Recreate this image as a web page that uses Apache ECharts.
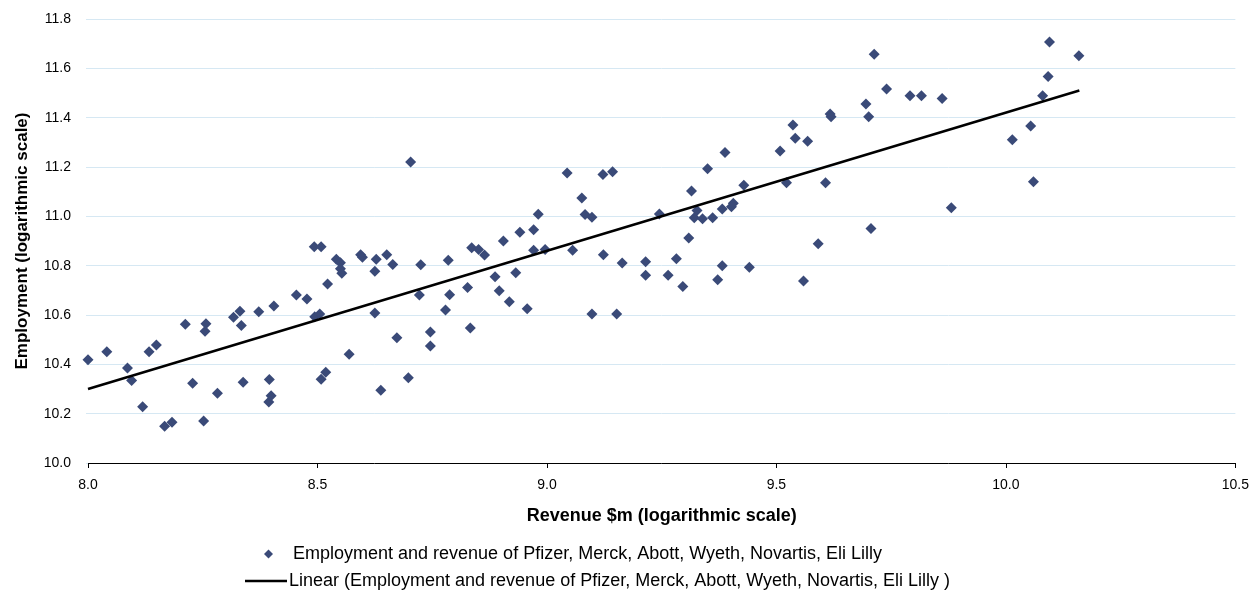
<!DOCTYPE html>
<html>
<head>
<meta charset="utf-8">
<script src="https://cdn.jsdelivr.net/npm/echarts@6/dist/echarts.min.js"></script>
<style>html,body{margin:0;padding:0;background:#fff}#c{width:1252px;height:592px}</style>
</head>
<body>
<div id="c"></div>
<script>
const revenueLog = [8.000,8.041,8.086,8.095,8.119,8.133,8.149,8.167,8.183,8.212,8.228,8.252,8.255,8.257,8.282,8.317,8.331,8.334,8.338,8.372,8.395,8.394,8.399,8.405,8.454,8.477,8.493,8.508,8.494,8.505,8.508,8.518,8.522,8.541,8.550,8.550,8.553,8.569,8.594,8.598,8.625,8.628,8.625,8.638,8.651,8.664,8.673,8.698,8.703,8.722,8.725,8.746,8.746,8.779,8.785,8.788,8.827,8.833,8.836,8.851,8.864,8.887,8.896,8.905,8.918,8.932,8.941,8.957,8.971,8.971,8.981,8.996,9.044,9.056,9.076,9.083,9.098,9.098,9.122,9.123,9.143,9.152,9.164,9.215,9.215,9.245,9.264,9.282,9.296,9.309,9.315,9.321,9.327,9.339,9.350,9.361,9.372,9.382,9.382,9.388,9.402,9.406,9.429,9.441,9.508,9.522,9.536,9.541,9.559,9.568,9.591,9.607,9.617,9.619,9.695,9.701,9.706,9.713,9.740,9.791,9.816,9.861,9.881,10.014,10.054,10.060,10.080,10.092,10.095,10.159];
const employmentLog = [10.419,10.451,10.385,10.334,10.228,10.451,10.478,10.149,10.165,10.563,10.323,10.170,10.534,10.565,10.283,10.591,10.615,10.557,10.327,10.613,10.339,10.247,10.273,10.636,10.681,10.665,10.877,10.877,10.593,10.604,10.340,10.368,10.726,10.826,10.812,10.788,10.769,10.441,10.844,10.834,10.777,10.826,10.608,10.295,10.844,10.805,10.508,10.346,11.220,10.681,10.804,10.531,10.474,10.620,10.822,10.682,10.711,10.547,10.873,10.866,10.843,10.755,10.698,10.900,10.654,10.771,10.935,10.625,10.946,10.862,11.008,10.866,11.176,10.862,11.074,11.007,10.996,10.604,11.170,10.844,11.181,10.604,10.811,10.816,10.761,11.009,10.761,10.828,10.716,10.912,11.103,10.994,11.024,10.990,11.193,10.994,10.743,11.030,10.800,11.259,11.039,11.053,11.126,10.794,11.265,11.136,11.370,11.317,10.738,11.304,10.889,11.136,11.415,11.404,11.455,11.404,10.951,11.657,11.516,11.489,11.489,11.478,11.035,11.310,11.366,11.140,11.489,11.567,11.707,11.651];
const trendX = [8.00, 10.16];
const trendY = [10.30, 11.51];
const scatterName = 'Employment and revenue of Pfizer, Merck, Abott, Wyeth, Novartis, Eli Lilly';
const lineName = 'Linear (Employment and revenue of Pfizer, Merck, Abott, Wyeth, Novartis, Eli Lilly )';

const font = 'Liberation Sans, Arial, sans-serif';
const chart = echarts.init(document.getElementById('c'));
chart.setOption({
  animation: false,
  grid: {left: 88, right: 15, top: 19, bottom: 129, containLabel: false},
  legend: [
    {data: [{name: scatterName, icon: 'diamond'}], left: 264, top: 545, padding: 0, orient: 'vertical', itemWidth: 9, itemHeight: 9,
     textStyle: {fontFamily: font, fontSize: 18, color: '#000', padding: [0,0,0,15]}},
    {data: [{name: lineName, icon: 'rect'}], left: 245, top: 572, padding: 0, orient: 'vertical', itemWidth: 42, itemHeight: 2.5,
     itemStyle: {color: '#000'},
     textStyle: {fontFamily: font, fontSize: 18, color: '#000', padding: [0,0,0,-3]}}
  ],
  xAxis: {
    type: 'value', min: 8.0, max: 10.5, interval: 0.5,
    name: 'Revenue $m (logarithmic scale)', nameLocation: 'middle', nameGap: 44,
    nameTextStyle: {fontFamily: font, fontSize: 18, fontWeight: 'bold', color: '#000'},
    axisLine: {show: true, onZero: false, lineStyle: {color: '#000', width: 1}},
    axisTick: {show: true, length: 5, inside: false, lineStyle: {color: '#000'}},
    axisLabel: {fontFamily: font, fontSize: 14, color: '#000', margin: 15, formatter: v => v.toFixed(1)},
    splitLine: {show: false}
  },
  yAxis: {
    type: 'value', min: 10.0, max: 11.8, interval: 0.2,
    name: 'Employment (logarithmic scale)', nameLocation: 'middle', nameGap: 57,
    nameTextStyle: {fontFamily: font, fontSize: 17, fontWeight: 'bold', color: '#000'},
    axisLine: {show: false},
    axisTick: {show: true, length: 2, lineStyle: {color: '#d6e8f3'}},
    axisLabel: {fontFamily: font, fontSize: 14, color: '#000', margin: 17, formatter: v => v.toFixed(1)},
    splitLine: {show: true, lineStyle: {color: '#d6e8f3', width: 1}}
  },
  series: [
    {
      name: scatterName, type: 'scatter', symbol: 'diamond', symbolSize: 11,
      itemStyle: {color: '#3a4a78', opacity: 1},
      data: revenueLog.map((x, i) => [x, employmentLog[i]]),
      z: 3
    },
    {
      name: lineName, type: 'line', symbol: 'none', showSymbol: false,
      lineStyle: {color: '#000', width: 2.5},
      itemStyle: {color: '#000'},
      data: trendX.map((x, i) => [x, trendY[i]]),
      z: 4
    }
  ]
});
</script>
</body>
</html>
